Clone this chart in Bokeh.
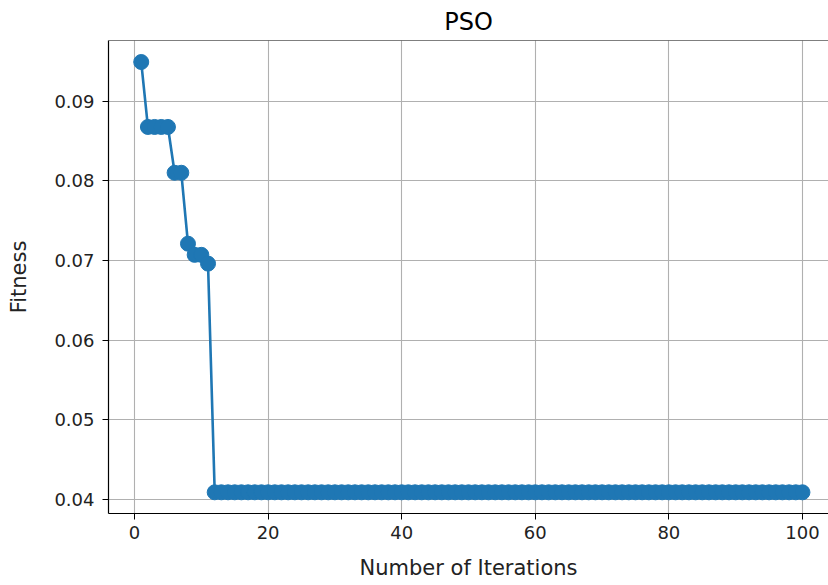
from bokeh.plotting import figure
from bokeh.embed import file_html
from bokeh.resources import INLINE
from bokeh.models import FixedTicker, NumeralTickFormatter, Range1d, Span

iterations = list(range(1, 101))
fitness = [
    0.0949, 0.08675, 0.08675, 0.08675, 0.08675, 0.0810, 0.0810, 0.0721, 0.0707, 0.0707,
    0.0696, 0.0409, 0.0409, 0.0409, 0.0409, 0.0409, 0.0409, 0.0409, 0.0409, 0.0409,
    0.0409, 0.0409, 0.0409, 0.0409, 0.0409, 0.0409, 0.0409, 0.0409, 0.0409, 0.0409,
    0.0409, 0.0409, 0.0409, 0.0409, 0.0409, 0.0409, 0.0409, 0.0409, 0.0409, 0.0409,
    0.0409, 0.0409, 0.0409, 0.0409, 0.0409, 0.0409, 0.0409, 0.0409, 0.0409, 0.0409,
    0.0409, 0.0409, 0.0409, 0.0409, 0.0409, 0.0409, 0.0409, 0.0409, 0.0409, 0.0409,
    0.0409, 0.0409, 0.0409, 0.0409, 0.0409, 0.0409, 0.0409, 0.0409, 0.0409, 0.0409,
    0.0409, 0.0409, 0.0409, 0.0409, 0.0409, 0.0409, 0.0409, 0.0409, 0.0409, 0.0409,
    0.0409, 0.0409, 0.0409, 0.0409, 0.0409, 0.0409, 0.0409, 0.0409, 0.0409, 0.0409,
    0.0409, 0.0409, 0.0409, 0.0409, 0.0409, 0.0409, 0.0409, 0.0409, 0.0409, 0.0409,
]
x_ticks = [0, 20, 40, 60, 80, 100]
y_ticks = [0.04, 0.05, 0.06, 0.07, 0.08, 0.09]

FONT = "DejaVu Sans"
BLUE = "#1f77b4"

p = figure(width=828, height=585, output_backend="svg", toolbar_location=None,
           title="PSO", x_range=Range1d(-3.9, 103.9), y_range=Range1d(0.03824, 0.0976),
           min_border_left=108, min_border_right=0, min_border_top=40, min_border_bottom=72)

p.line(iterations, fitness, line_color=BLUE, line_width=2.6)
p.scatter(iterations, fitness, size=15, fill_color=BLUE, line_color=BLUE)

p.title.align = "center"
p.title.text_font = FONT
p.title.text_font_size = "24px"
p.title.text_font_style = "normal"
p.title.text_color = "#000000"

p.outline_line_color = None
p.add_layout(Span(location=0.0976, dimension="width", line_color="#000000", line_width=1.2))

for ax in (p.xaxis[0], p.yaxis[0]):
    ax.axis_line_color = "#000000"
    ax.axis_line_width = 1.2
    ax.major_tick_line_color = "#000000"
    ax.major_tick_out = 6
    ax.major_tick_in = 0
    ax.minor_tick_line_color = None
    ax.major_label_text_font = FONT
    ax.major_label_text_font_size = "18px"
    ax.major_label_text_color = "#222222"
    ax.axis_label_text_font = FONT
    ax.axis_label_text_font_size = "21px"
    ax.axis_label_text_font_style = "normal"
    ax.axis_label_text_color = "#222222"

p.xaxis.ticker = FixedTicker(ticks=x_ticks)
p.yaxis.ticker = FixedTicker(ticks=y_ticks)
p.yaxis.formatter = NumeralTickFormatter(format="0.00")
p.xaxis.axis_label = "Number of Iterations"
p.yaxis.axis_label = "Fitness"
p.xaxis.axis_label_standoff = 14
p.yaxis.axis_label_standoff = 20
p.xaxis.major_label_standoff = 6
p.yaxis.major_label_standoff = 8

p.grid.grid_line_color = "#b0b0b0"
p.grid.grid_line_width = 1.1

open("out.html", "w").write(file_html(p, INLINE))
